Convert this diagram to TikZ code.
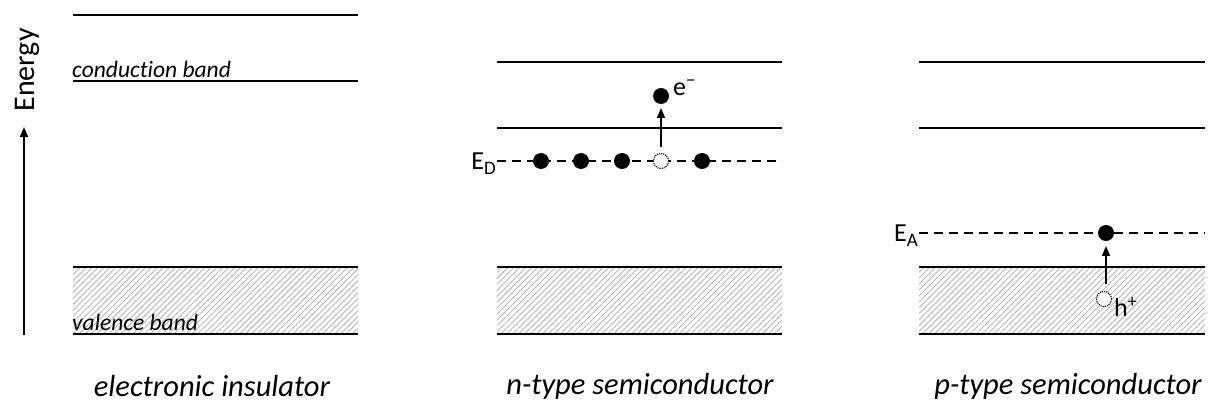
\documentclass[tikz,border=0pt]{standalone}
\usepackage{fontspec}
\setmainfont[Ligatures=NoCommon]{Carlito}
\usetikzlibrary{patterns.meta,arrows.meta}
\begin{document}
\begin{tikzpicture}[x=1pt,y=-1pt,
  band/.style={line width=2.8pt},
  level/.style={line width=2pt,dash pattern=on 9pt off 6pt},
  hatch/.style={pattern={Lines[angle=45,distance=4.2pt,line width=0.9pt]},pattern color=black!28},
  electron/.style={circle,fill=black,inner sep=0pt,minimum size=16pt},
  hole/.style={circle,draw,densely dotted,fill=white,line width=1.1pt,inner sep=0pt,minimum size=15pt},
  up/.style={-{Triangle[length=10pt,width=8pt]},line width=1.8pt},
  caption/.style={font=\fontsize{30.5}{34}\selectfont\itshape},
  lbl/.style={font=\fontsize{26}{30}\selectfont}]
\useasboundingbox (0,0) rectangle (1208,419);
% panel 1
\fill[hatch] (73,267) rectangle (358,334);
\draw[band] (73,15) -- (358,15);
\draw[band] (73,81) -- (358,81);
\draw[band] (73,267) -- (358,267);
\draw[band] (73,334) -- (358,334);
\node[font=\fontsize{23.5}{26}\selectfont\itshape,anchor=base west,inner sep=0pt] (cb) at (72,78) {conduct\kern0pt ion band};
\node[font=\fontsize{23.5}{26}\selectfont\itshape,anchor=base west,inner sep=0pt] (vb) at (72,331) {valence band};
\coordinate (eb) at (24,335);
\coordinate (et) at (24,127);
\draw[up] (eb) -- (et);
\node[font=\fontsize{30}{33}\selectfont,rotate=90,anchor=center] (energy) at (27,70) {Energy};
\node[caption] (c1) at (212,386) {electronic insulator};
% panel 2
\fill[hatch] (497,267) rectangle (782,334);
\draw[band] (497,62) -- (782,62);
\draw[band] (497,128) -- (782,128);
\draw[band] (497,267) -- (782,267);
\draw[band] (497,334) -- (782,334);
\coordinate (d0) at (497,161);
\coordinate (d1) at (782,161);
\draw[level] (d0) -- (d1);
\node[lbl,anchor=east,inner sep=0pt] (ED) at (496,164) {E\raisebox{-0.4ex}{\fontsize{19}{20}\selectfont D}};
\node[electron] (n1) at (541,161) {};
\node[electron] (n2) at (581,161) {};
\node[electron] (n3) at (622,161) {};
\node[hole] (n4) at (661,161) {};
\node[electron] (n5) at (702,161) {};
\node[electron] (ex) at (661,96) {};
\node[lbl,anchor=west,inner sep=0pt] (em) at (673,88) {e\raisebox{0.7ex}{\fontsize{19}{20}\selectfont −}};
\coordinate (a1) at (661,147);
\coordinate (a2) at (661,108);
\draw[up] (a1) -- (a2);
\node[caption] (c2) at (640,386) {n-type semiconductor};
% panel 3
\fill[hatch] (919,267) rectangle (1205,334);
\draw[band] (919,62) -- (1205,62);
\draw[band] (919,128) -- (1205,128);
\draw[band] (919,267) -- (1205,267);
\draw[band] (919,334) -- (1205,334);
\coordinate (p0) at (919,233);
\coordinate (p1) at (1205,233);
\draw[level] (p0) -- (p1);
\node[lbl,anchor=east,inner sep=0pt] (EA) at (918,236) {E\raisebox{-0.4ex}{\fontsize{19}{20}\selectfont A}};
\node[electron] (acc) at (1106,233) {};
\node[hole] (hh) at (1104,299) {};
\node[lbl,anchor=west,inner sep=0pt] (hp) at (1114,307) {h\raisebox{0.7ex}{\fontsize{18}{20}\selectfont +}};
\coordinate (b1) at (1106,284);
\coordinate (b2) at (1106,246);
\draw[up] (b1) -- (b2);
\node[caption] (c3) at (1068,386) {p-type semiconductor};
\end{tikzpicture}
\end{document}
